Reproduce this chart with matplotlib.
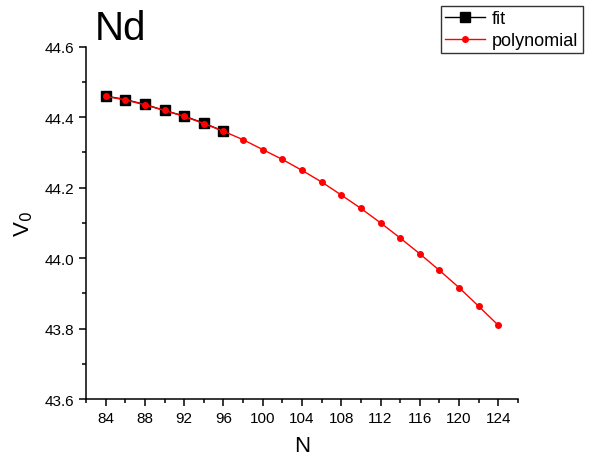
import matplotlib.pyplot as plt
from matplotlib.ticker import MultipleLocator
import numpy as np

plt.rcParams['font.family'] = ['Liberation Sans', 'DejaVu Sans']

# fitted values
n_fit = [84, 86, 88, 90, 92, 94, 96]
v_fit = [44.460, 44.450, 44.436, 44.419, 44.403, 44.383, 44.360]

# polynomial extrapolation
n_poly = [84, 86, 88, 90, 92, 94, 96, 98, 100, 102, 104, 106, 108, 110,
          112, 114, 116, 118, 120, 122, 124]
v_poly = [44.459, 44.449, 44.435, 44.419, 44.402, 44.382, 44.360, 44.336,
          44.308, 44.280, 44.249, 44.216, 44.179, 44.141, 44.100, 44.057,
          44.012, 43.965, 43.916, 43.863, 43.809]

fig = plt.figure(figsize=(5.89, 4.56), dpi=100)
ax = fig.add_axes([0.146, 0.1228, 0.7335, 0.7726])

ax.plot(n_fit, v_fit, '-s', color='black', lw=1, ms=6.5, label='fit')
ax.plot(n_poly, v_poly, '-o', color='red', lw=1, ms=4, label='polynomial')

ax.set_xlim(82, 126)
ax.set_ylim(43.6, 44.6)
ax.xaxis.set_major_locator(MultipleLocator(4))
ax.xaxis.set_minor_locator(MultipleLocator(2))
ax.yaxis.set_major_locator(MultipleLocator(0.2))
ax.yaxis.set_minor_locator(MultipleLocator(0.1))
ax.yaxis.set_major_formatter(plt.FormatStrFormatter('%.1f'))

ax.spines['top'].set_visible(False)
ax.spines['right'].set_visible(False)
for s in ('left', 'bottom'):
    ax.spines[s].set_linewidth(1.1)
ax.tick_params(which='major', direction='out', length=5, width=1.1, labelsize=11)
ax.tick_params(which='minor', direction='out', length=3, width=1.1)

ax.set_xlabel('N', fontsize=16, labelpad=7)
ax.set_ylabel('V$_0$', fontsize=16, labelpad=7)

ax.text(0.02, 1.0, 'Nd', transform=ax.transAxes, fontsize=29,
        va='bottom', ha='left')

leg = fig.legend(loc='upper right', bbox_to_anchor=(0.99, 0.985),
                 fontsize=13, frameon=True, fancybox=False,
                 borderpad=0.25, handlelength=2.2, handletextpad=0.4,
                 labelspacing=0.25, borderaxespad=0)
leg.get_frame().set_edgecolor('black')
leg.get_frame().set_linewidth(1)

fig.savefig('out.png')
